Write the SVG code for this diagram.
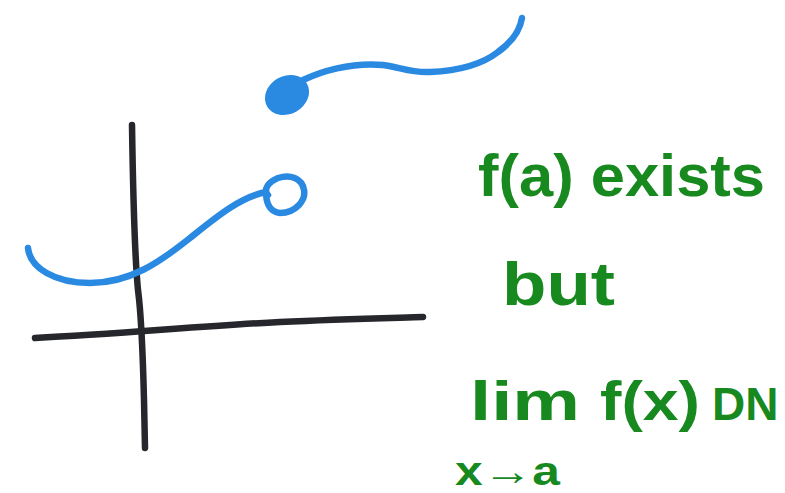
<svg xmlns="http://www.w3.org/2000/svg" width="785" height="493" viewBox="0 0 785 493">
<style>
.ax{fill:none;stroke:#26272c;stroke-width:6.5;stroke-linecap:round;stroke-linejoin:round}
.bl{fill:none;stroke:#2a8ae2;stroke-width:6.5;stroke-linecap:round;stroke-linejoin:round}
.tx{fill:#17891f;font-family:"Liberation Sans",Arial,sans-serif;font-weight:bold}
</style>
<rect width="785" height="493" fill="#ffffff"/>
<g id="axes">
<path class="ax" d="M132,125 C133,190 134,250 138,290 C142,320 143,360 144,400 L145,448"/>
<path class="ax" d="M35,338 C120,334 200,326 280,322 C340,319 390,318 423,317"/>
</g>
<g id="lower-curve">
<path class="bl" d="M28,248 C30,268 55,283 90,283 C130,283 160,262 190,238 C215,218 240,197 266,192 C266,200 268,212 280,213 C296,213 306,200 304,190 C302,178 290,174 278,178 C268,182 263,190 268,195"/>
</g>
<g id="upper-curve">
<ellipse cx="287" cy="95" rx="23" ry="19" transform="rotate(-30 287 95)" fill="#2a8ae2"/>
<path class="bl" d="M303,80 C320,72 350,62 383,65 C400,67 410,73 430,72 C455,71 480,66 498,52 C512,42 520,30 522,18"/>
</g>
<g id="notes">
<text class="tx" x="478" y="196" font-size="60" textLength="287" lengthAdjust="spacingAndGlyphs">f(a) exists</text>
<text class="tx" x="502" y="305" font-size="62" textLength="113" lengthAdjust="spacingAndGlyphs">but</text>
<text class="tx" x="470" y="420" font-size="56" textLength="110" lengthAdjust="spacingAndGlyphs">lim</text>
<text class="tx" x="600" y="420" font-size="56" textLength="100" lengthAdjust="spacingAndGlyphs">f(x)</text>
<text class="tx" x="712" y="420" font-size="46">DN</text>
<text class="tx" x="455" y="485" font-size="40" textLength="105" lengthAdjust="spacingAndGlyphs">x→a</text>
</g>
</svg>
